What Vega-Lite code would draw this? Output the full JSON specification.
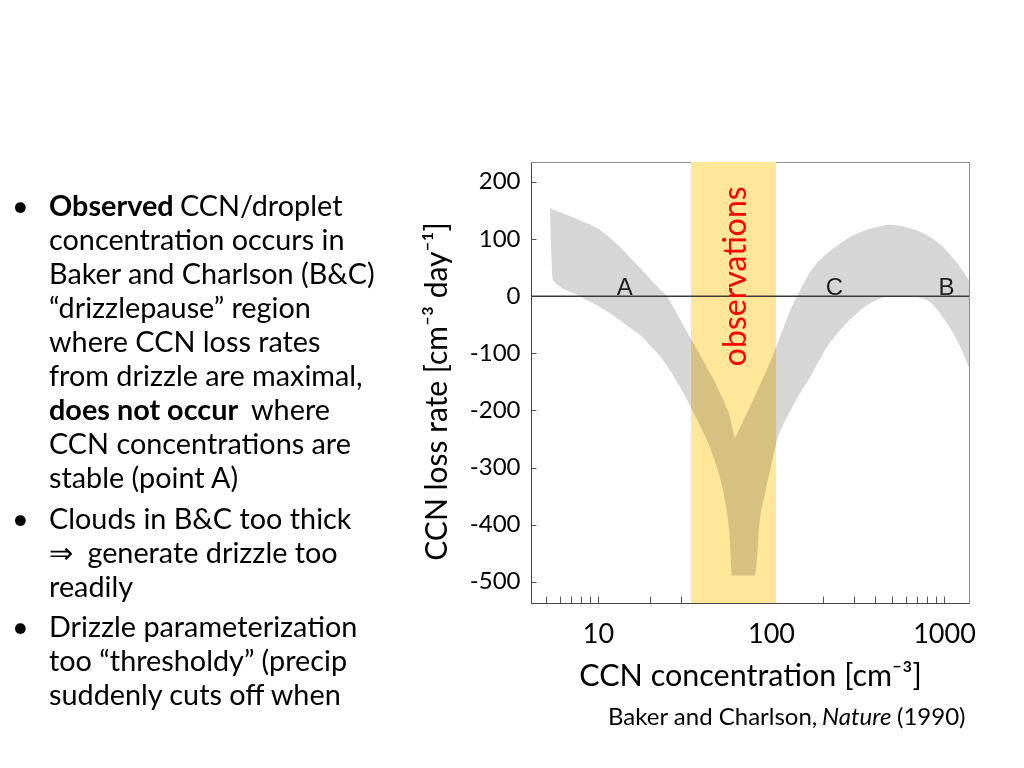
{
  "$schema": "https://vega.github.io/schema/vega-lite/v6.json",
  "background": "white",
  "padding": {"left": 0, "top": 161, "right": 0, "bottom": 0},
  "bounds": "flush",
  "spacing": 101,
  "config": {"font": "Lato", "view": {"stroke": null}},
  "hconcat": [
    {
      "width": 430,
      "height": 584,
      "data": {"values": [
        {"line": 1, "para": 1, "bullet": "•", "bold": "Observed", "tail": "CCN/droplet"},
        {"line": 2, "para": 1, "text": "concentration occurs in"},
        {"line": 3, "para": 1, "text": "Baker and Charlson (B&C)"},
        {"line": 4, "para": 1, "text": "“drizzlepause” region"},
        {"line": 5, "para": 1, "text": "where CCN loss rates"},
        {"line": 6, "para": 1, "text": "from drizzle are maximal,"},
        {"line": 7, "para": 1, "bold": "does not occur", "tail2": "where"},
        {"line": 8, "para": 1, "text": "CCN concentrations are"},
        {"line": 9, "para": 1, "text": "stable (point A)"},
        {"line": 10, "para": 2, "bullet": "•", "text": "Clouds in B&C too thick"},
        {"line": 11, "para": 2, "text": "⇒\u2002generate drizzle too"},
        {"line": 12, "para": 2, "text": "readily"},
        {"line": 13, "para": 3, "bullet": "•", "text": "Drizzle parameterization"},
        {"line": 14, "para": 3, "text": "too “thresholdy” (precip"},
        {"line": 15, "para": 3, "text": "suddenly cuts off when"}
      ]},
      "encoding": {
        "y": {"field": "line", "type": "quantitative", "axis": null,
              "scale": {"domain": [-0.588, 16.588], "reverse": true, "nice": false, "zero": false}}
      },
      "layer": [
        {"transform": [{"filter": "datum.bullet && datum.para == 1"}],
         "mark": {"type": "text", "align": "left", "baseline": "alphabetic", "fontSize": 28.8, "color": "black", "dy": 0},
         "encoding": {"x": {"value": 12}, "text": {"field": "bullet"}}},
        {"transform": [{"filter": "datum.bullet && datum.para == 2"}],
         "mark": {"type": "text", "align": "left", "baseline": "alphabetic", "fontSize": 28.8, "color": "black", "dy": 7},
         "encoding": {"x": {"value": 12}, "text": {"field": "bullet"}}},
        {"transform": [{"filter": "datum.bullet && datum.para == 3"}],
         "mark": {"type": "text", "align": "left", "baseline": "alphabetic", "fontSize": 28.8, "color": "black", "dy": 13},
         "encoding": {"x": {"value": 12}, "text": {"field": "bullet"}}},
        {"transform": [{"filter": "datum.text && datum.para == 1"}],
         "mark": {"type": "text", "align": "left", "baseline": "alphabetic", "fontSize": 28.8, "color": "black", "dy": 0},
         "encoding": {"x": {"value": 49}, "text": {"field": "text"}}},
        {"transform": [{"filter": "datum.text && datum.para == 2"}],
         "mark": {"type": "text", "align": "left", "baseline": "alphabetic", "fontSize": 28.8, "color": "black", "dy": 7},
         "encoding": {"x": {"value": 49}, "text": {"field": "text"}}},
        {"transform": [{"filter": "datum.text && datum.para == 3"}],
         "mark": {"type": "text", "align": "left", "baseline": "alphabetic", "fontSize": 28.8, "color": "black", "dy": 13},
         "encoding": {"x": {"value": 49}, "text": {"field": "text"}}},
        {"transform": [{"filter": "datum.bold"}],
         "mark": {"type": "text", "align": "left", "baseline": "alphabetic", "fontSize": 28.8, "fontWeight": "bold", "color": "black"},
         "encoding": {"x": {"value": 49}, "text": {"field": "bold"}}},
        {"transform": [{"filter": "datum.tail"}],
         "mark": {"type": "text", "align": "left", "baseline": "alphabetic", "fontSize": 28.8, "color": "black"},
         "encoding": {"x": {"value": 180}, "text": {"field": "tail"}}},
        {"transform": [{"filter": "datum.tail2"}],
         "mark": {"type": "text", "align": "left", "baseline": "alphabetic", "fontSize": 28.8, "color": "black"},
         "encoding": {"x": {"value": 251}, "text": {"field": "tail2"}}}
      ]
    },
    {
      "width": 438,
      "height": 441,
      "view": {"stroke": "#8c8c8c", "strokeWidth": 1},
      "layer": [
        {
          "data": {"values": [{"lo": 34.5, "hi": 107}]},
          "mark": {"type": "rect", "color": "#FFE699"},
          "encoding": {
            "x": {"field": "lo", "type": "quantitative",
                  "scale": {"type": "log", "domain": [4.1, 1395], "nice": false},
                  "axis": {"values": [5,6,7,8,9,10,20,30,40,50,60,70,80,90,100,200,300,400,500,600,700,800,900,1000],
                           "format": "d",
                           "labelExpr": "(datum.value == 10 || datum.value == 100 || datum.value == 1000) ? datum.label : ''",
                           "labelOverlap": false, "labelFlush": false, "labelBound": false,
                           "tickSize": -7, "tickColor": "#555", "grid": false, "domainColor": "#444",
                           "labelFont": "Lato", "labelFontSize": 27, "labelColor": "black", "labelPadding": 25,
                           "title": "CCN concentration [cm⁻³]", "titleFont": "Lato", "titleFontSize": 30.5,
                           "titleFontWeight": "normal", "titleColor": "black", "titlePadding": 14}},
            "x2": {"field": "hi"}
          }
        },
        {
          "data": {"values": [
            {"arm": "left", "n": 5.28, "hi": 154, "lo": 150},
            {"arm": "left", "n": 5.49, "hi": 152, "lo": 28},
            {"arm": "left", "n": 7.87, "hi": 133, "lo": 0},
            {"arm": "left", "n": 10.27, "hi": 116, "lo": -19},
            {"arm": "left", "n": 13.4, "hi": 86, "lo": -42},
            {"arm": "left", "n": 15.3, "hi": 68, "lo": -55},
            {"arm": "left", "n": 17.49, "hi": 50, "lo": -68},
            {"arm": "left", "n": 20.79, "hi": 25, "lo": -92},
            {"arm": "left", "n": 22.83, "hi": 12, "lo": -105},
            {"arm": "left", "n": 25.06, "hi": 0, "lo": -122},
            {"arm": "left", "n": 27.14, "hi": -18, "lo": -138},
            {"arm": "left", "n": 28.62, "hi": -30, "lo": -150},
            {"arm": "left", "n": 31.01, "hi": -50, "lo": -168},
            {"arm": "left", "n": 32.7, "hi": -62, "lo": -181},
            {"arm": "left", "n": 34.48, "hi": -75, "lo": -195},
            {"arm": "left", "n": 40.45, "hi": -112, "lo": -237},
            {"arm": "left", "n": 42.66, "hi": -125, "lo": -252},
            {"arm": "left", "n": 48.74, "hi": -158, "lo": -300},
            {"arm": "left", "n": 50.73, "hi": -170, "lo": -318},
            {"arm": "left", "n": 54.21, "hi": -188, "lo": -358},
            {"arm": "left", "n": 57.95, "hi": -212, "lo": -430},
            {"arm": "left", "n": 59.5, "hi": -228, "lo": -489},
            {"arm": "left", "n": 61.93, "hi": -249, "lo": -489},
            {"arm": "right", "n": 61.93, "hi": -249, "lo": -489},
            {"arm": "right", "n": 70.74, "hi": -212, "lo": -489},
            {"arm": "right", "n": 80.81, "hi": -174, "lo": -489},
            {"arm": "right", "n": 86.38, "hi": -155, "lo": -390},
            {"arm": "right", "n": 92.33, "hi": -136, "lo": -345},
            {"arm": "right", "n": 98.68, "hi": -116, "lo": -305},
            {"arm": "right", "n": 108.3, "hi": -85, "lo": -252},
            {"arm": "right", "n": 120.5, "hi": -48, "lo": -218},
            {"arm": "right", "n": 134.0, "hi": -14, "lo": -192},
            {"arm": "right", "n": 147.1, "hi": 10, "lo": -170},
            {"arm": "right", "n": 168.1, "hi": 42, "lo": -142},
            {"arm": "right", "n": 210.8, "hi": 75, "lo": -89},
            {"arm": "right", "n": 260.8, "hi": 96, "lo": -54},
            {"arm": "right", "n": 326.9, "hi": 112, "lo": -25},
            {"arm": "right", "n": 410.1, "hi": 121, "lo": -6},
            {"arm": "right", "n": 487.4, "hi": 125, "lo": -1},
            {"arm": "right", "n": 636.1, "hi": 119, "lo": 0},
            {"arm": "right", "n": 797.3, "hi": 107, "lo": -7},
            {"arm": "right", "n": 986.8, "hi": 86, "lo": -37},
            {"arm": "right", "n": 1189, "hi": 58, "lo": -77},
            {"arm": "right", "n": 1395, "hi": 28, "lo": -125}
          ]},
          "mark": {"type": "area", "color": "#D6D6D6", "blend": "multiply", "interpolate": "monotone"},
          "encoding": {
            "x": {"field": "n", "type": "quantitative",
                  "scale": {"type": "log", "domain": [4.1, 1395], "nice": false}},
            "y": {"field": "hi", "type": "quantitative",
                  "scale": {"domain": [-537, 235], "nice": false, "zero": false},
                  "axis": {"values": [-500,-400,-300,-200,-100,0,100,200],
                           "labelExpr": "replace(datum.label, '−', '-')",
                           "tickSize": -5, "tickColor": "#555", "grid": false, "domainColor": "#444",
                           "labelFont": "Lato", "labelFontSize": 24, "labelColor": "black", "labelPadding": 16,
                           "title": "CCN loss rate [cm⁻³ day⁻¹]", "titleFont": "Lato", "titleFontSize": 30,
                           "titleFontWeight": "normal", "titleColor": "black", "titlePadding": 17, "titleY": 229}},
            "y2": {"field": "lo"},
            "detail": {"field": "arm"}
          }
        },
        {
          "data": {"values": [{}]},
          "mark": {"type": "rule", "color": "#3a3a3a", "strokeWidth": 1.5},
          "encoding": {"y": {"datum": 0, "type": "quantitative"}}
        },
        {
          "data": {"values": [{"lbl": "A", "n": 14.3}, {"lbl": "C", "n": 233}, {"lbl": "B", "n": 1035}]},
          "mark": {"type": "text", "font": "Liberation Sans", "fontSize": 24, "color": "#1e1e1e", "align": "center", "baseline": "alphabetic", "dy": -1},
          "encoding": {
            "x": {"field": "n", "type": "quantitative"},
            "y": {"datum": 0, "type": "quantitative"},
            "text": {"field": "lbl"}
          }
        },
        {
          "data": {"values": [{"t": "observations"}]},
          "mark": {"type": "text", "font": "Lato", "fontSize": 32, "color": "#FF0000", "angle": 270, "align": "center", "baseline": "middle"},
          "encoding": {
            "x": {"datum": 63, "type": "quantitative"},
            "y": {"datum": 35, "type": "quantitative"},
            "text": {"field": "t"}
          }
        },
        {
          "data": {"values": [{"t": "Baker and Charlson,"}]},
          "mark": {"type": "text", "font": "Lato", "fontSize": 24, "color": "black", "align": "left", "baseline": "alphabetic", "dx": -361, "dy": 122},
          "encoding": {
            "x": {"datum": 1395, "type": "quantitative"},
            "y": {"datum": -537, "type": "quantitative"},
            "text": {"field": "t"}
          }
        },
        {
          "data": {"values": [{"t": "Nature"}]},
          "mark": {"type": "text", "font": "Lato", "fontSize": 24, "fontStyle": "italic", "color": "black", "align": "left", "baseline": "alphabetic", "dx": -147, "dy": 122},
          "encoding": {
            "x": {"datum": 1395, "type": "quantitative"},
            "y": {"datum": -537, "type": "quantitative"},
            "text": {"field": "t"}
          }
        },
        {
          "data": {"values": [{"t": "(1990)"}]},
          "mark": {"type": "text", "font": "Lato", "fontSize": 24, "color": "black", "align": "left", "baseline": "alphabetic", "dx": -72, "dy": 122},
          "encoding": {
            "x": {"datum": 1395, "type": "quantitative"},
            "y": {"datum": -537, "type": "quantitative"},
            "text": {"field": "t"}
          }
        }
      ]
    }
  ]
}
